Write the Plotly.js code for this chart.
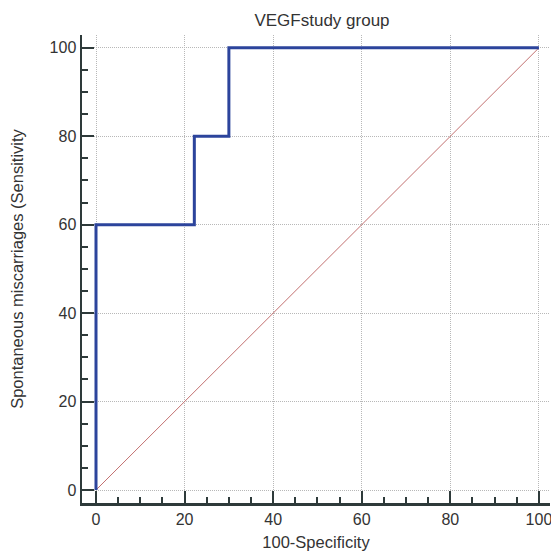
<!DOCTYPE html>
<html><head><meta charset="utf-8">
<script src="https://cdn.plot.ly/plotly-3.0.1.min.js"></script>
<style>html,body{margin:0;padding:0;background:#fff}#chart{width:551px;height:552px}</style>
</head><body><div id="chart"></div>
<script>
// ROC curve points (100-Specificity, Sensitivity)
const rocX = [0, 0, 22.2, 22.2, 30, 30, 100];
const rocY = [0, 60, 60, 80, 80, 100, 100];
// Reference diagonal
const diagX = [0, 100];
const diagY = [0, 100];
const tickVals = [0, 20, 40, 60, 80, 100];
const tickText = ["0", "20", "40", "60", "80", "100"];

const FONT = 'Liberation Sans, Arial, sans-serif';
const axisCommon = {
  showline: true, linecolor: '#2e3a3a', linewidth: 2.5, mirror: false,
  ticks: 'inside', ticklen: 12, tickwidth: 2, tickcolor: '#2e3a3a',
  tickvals: tickVals, ticktext: tickText, ticklabeloverflow: 'allow',
  showgrid: true, gridcolor: '#b8b8b8', griddash: '1px,1px', gridwidth: 1,
  zeroline: false,
  tickfont: {family: FONT, size: 16, color: '#333'},
  minor: {dtick: 5, ticks: 'inside', ticklen: 6, tickwidth: 2, tickcolor: '#2e3a3a', showgrid: false}
};

const data = [
  {x: diagX, y: diagY, mode: 'lines', line: {color: '#c27070', width: 1}, hoverinfo: 'skip'},
  {x: rocX, y: rocY, mode: 'lines', line: {color: '#2c449c', width: 3}, hoverinfo: 'skip'}
];

const layout = {
  width: 551, height: 552,
  margin: {l: 82, r: 1, t: 35, b: 49},
  paper_bgcolor: '#fff', plot_bgcolor: '#fff',
  showlegend: false,
  title: {text: 'VEGFstudy group', x: 322/551, xanchor: 'center', y: 1 - 20/552, yanchor: 'middle',
          font: {family: FONT, size: 17, color: '#333'}},
  xaxis: Object.assign({}, axisCommon, {
    range: [-3.16, 102.5], automargin: false,
    title: {text: '100-Specificity', standoff: 10, font: {family: FONT, size: 16.5, color: '#333'}}
  }),
  yaxis: Object.assign({}, axisCommon, {
    range: [-2.94, 102.9], automargin: false,
    title: {text: 'Spontaneous miscarriages (Sensitivity', standoff: 22, font: {family: FONT, size: 16.5, color: '#333'}}
  })
};

Plotly.newPlot('chart', data, layout, {displayModeBar: false, staticPlot: true});
</script></body></html>
